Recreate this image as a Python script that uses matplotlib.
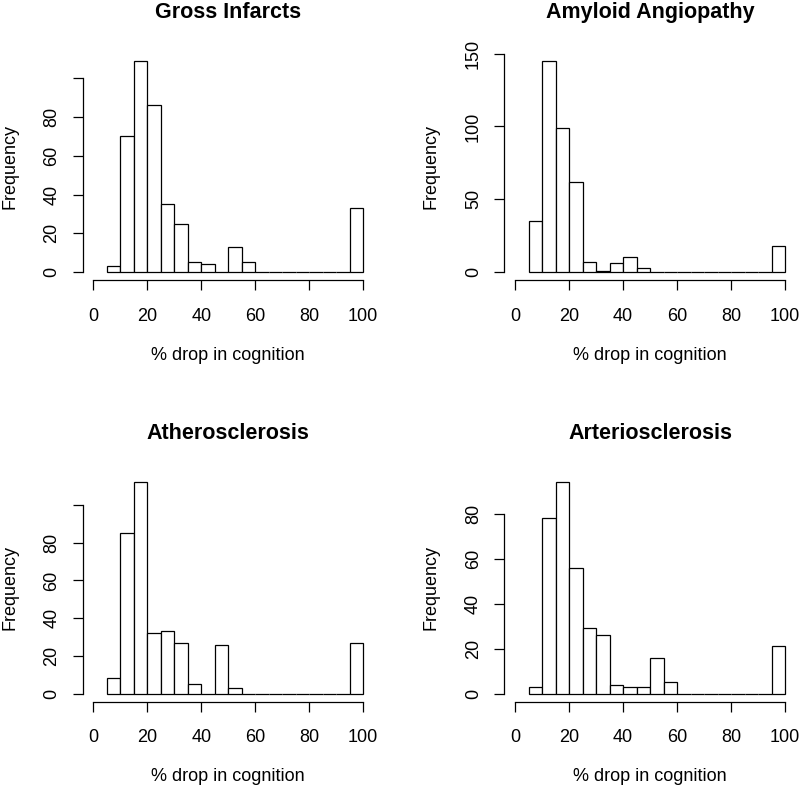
import matplotlib
matplotlib.use("Agg")
import matplotlib.pyplot as plt

plt.rcParams["font.family"] = ["Liberation Sans", "DejaVu Sans"]

# ── Data (counts per 5 % bin, 5..100) ───────────────────────────────────────
BIN_LEFT = [5, 10, 15, 20, 25, 30, 35, 40, 45, 50,
            55, 60, 65, 70, 75, 80, 85, 90, 95]
BIN_WIDTH = 5

gross_infarcts = [3, 70, 109, 86, 35, 25, 5, 4, 0, 13,
                  5, 0, 0, 0, 0, 0, 0, 0, 33]
amyloid_angiopathy = [35, 145, 99, 62, 7, 1, 6, 10, 3, 0,
                      0, 0, 0, 0, 0, 0, 0, 0, 18]
atherosclerosis = [8, 85, 112, 32, 33, 27, 5, 0, 26, 3,
                   0, 0, 0, 0, 0, 0, 0, 0, 27]
arteriosclerosis = [3, 78, 94, 56, 29, 26, 4, 3, 3, 16,
                    5, 0, 0, 0, 0, 0, 0, 0, 21]

titles = ["Gross Infarcts", "Amyloid Angiopathy",
          "Atherosclerosis", "Arteriosclerosis"]
series = [gross_infarcts, amyloid_angiopathy, atherosclerosis, arteriosclerosis]
y_ticks = [
    [0, 20, 40, 60, 80, 100],
    [0, 50, 100, 150],
    [0, 20, 40, 60, 80, 100],
    [0, 20, 40, 60, 80],
]
# R drops the top label when it would overlap
y_labels = [
    ["0", "20", "40", "60", "80", ""],
    ["0", "50", "100", "150"],
    ["0", "20", "40", "60", "80", ""],
    ["0", "20", "40", "60", "80"],
]
x_ticks = [0, 20, 40, 60, 80, 100]

W, H = 800, 786
# panel boxes in pixels: left, top, right, bottom
boxes = [
    (82.5, 52.5, 374.0, 280.5),
    (504.2, 52.5, 795.8, 280.5),
    (82.5, 474.0, 374.0, 702.0),
    (504.2, 474.0, 795.8, 702.0),
]

fig = plt.figure(figsize=(W / 100, H / 100), dpi=100, facecolor="white")

for title, counts, yt, yl, (l, t, r, b) in zip(titles, series, y_ticks, y_labels, boxes):
    ax = fig.add_axes([l / W, 1 - b / H, (r - l) / W, (b - t) / H])
    ax.bar(BIN_LEFT, counts, width=BIN_WIDTH, align="edge",
           facecolor="white", edgecolor="black", linewidth=0.9)
    ymax = max(counts)
    ax.set_xlim(-4, 104)
    ax.set_ylim(-0.04 * ymax, 1.04 * ymax)

    for side in ["top", "right"]:
        ax.spines[side].set_visible(False)
    ax.spines["left"].set_bounds(yt[0], yt[-1])
    ax.spines["bottom"].set_bounds(x_ticks[0], x_ticks[-1])
    for side in ["left", "bottom"]:
        ax.spines[side].set_linewidth(0.9)

    ax.set_xticks(x_ticks)
    ax.set_xticklabels([str(v) for v in x_ticks])
    ax.set_yticks(yt)
    ax.set_yticklabels(yl, rotation=90, va="center")
    ax.tick_params(axis="both", direction="out", length=7, width=0.9,
                   labelsize=13)
    ax.tick_params(axis="x", pad=12.5)
    ax.tick_params(axis="y", pad=9)

    ax.set_xlabel("% drop in cognition", fontsize=13, labelpad=16)
    ax.set_ylabel("Frequency", fontsize=13, labelpad=18)
    ax.set_title(title, fontsize=15.5, fontweight="bold", pad=25)

fig.savefig("out.png", dpi=100, facecolor="white")
